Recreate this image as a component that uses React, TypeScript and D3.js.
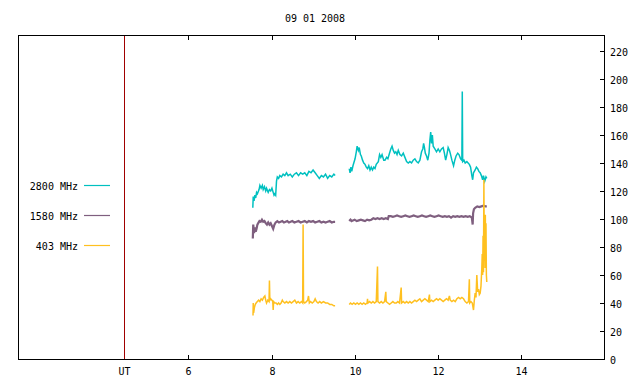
import React from 'react';
import * as d3 from 'd3';

// [hour UT, flux] pairs; NaN marks the data gap
const s2800: [number, number][] = [
  [7.55, 108], [7.56, 116], [7.58, 113], [7.6, 117], [7.62, 115], [7.64, 119], [7.66, 118], [7.7, 121],
  [7.72, 124], [7.75, 122], [7.78, 124], [7.8, 121], [7.83, 123], [7.86, 120], [7.88, 122], [7.92, 119],
  [7.95, 121], [7.98, 120], [8.01, 122], [8.04, 119], [8.06, 117], [8.08, 118], [8.1, 117], [8.12, 127],
  [8.14, 130], [8.17, 129], [8.2, 131], [8.24, 130], [8.28, 132], [8.32, 131], [8.36, 133], [8.4, 131],
  [8.45, 132], [8.5, 130], [8.55, 132], [8.6, 133], [8.65, 131], [8.7, 133], [8.75, 132], [8.8, 133],
  [8.85, 131], [8.9, 134], [8.95, 133], [9.0, 135], [9.05, 133], [9.1, 131], [9.15, 129], [9.2, 131],
  [9.25, 130], [9.3, 132], [9.35, 129], [9.4, 131], [9.45, 130], [9.5, 132], [9.53, 131],
  [9.7, NaN],
  [9.87, 136], [9.89, 133], [9.91, 137], [9.93, 134], [9.96, 138], [9.99, 141], [10.01, 143], [10.04, 148],
  [10.06, 152], [10.09, 149], [10.11, 151], [10.14, 146], [10.16, 145], [10.19, 142], [10.22, 140], [10.25, 139],
  [10.28, 137], [10.31, 136], [10.34, 138], [10.37, 135], [10.4, 137], [10.43, 135], [10.46, 137], [10.49, 136],
  [10.52, 139], [10.57, 141], [10.6, 146], [10.63, 144], [10.66, 146], [10.7, 142], [10.73, 142], [10.77, 144],
  [10.8, 143], [10.83, 146], [10.87, 150], [10.9, 152], [10.93, 149], [10.96, 147], [10.99, 148], [11.02, 146],
  [11.05, 149], [11.09, 146], [11.13, 145], [11.17, 147], [11.21, 144], [11.25, 141], [11.29, 140], [11.33, 141],
  [11.37, 140], [11.41, 142], [11.45, 143], [11.49, 141], [11.53, 140], [11.57, 142], [11.61, 148], [11.64, 150],
  [11.66, 154], [11.68, 151], [11.7, 147], [11.73, 145], [11.76, 142], [11.79, 147], [11.81, 156], [11.83, 162],
  [11.85, 154], [11.87, 160], [11.89, 152], [11.93, 150], [11.97, 148], [12.01, 150], [12.05, 148], [12.09, 150],
  [12.13, 151], [12.16, 147], [12.19, 142], [12.22, 146], [12.25, 151], [12.28, 149], [12.3, 147], [12.34, 142],
  [12.38, 138], [12.41, 142], [12.44, 145], [12.48, 147], [12.51, 146], [12.55, 143], [12.58, 142], [12.59, 191],
  [12.6, 141], [12.63, 142], [12.66, 140], [12.7, 141], [12.73, 140], [12.76, 139], [12.79, 137], [12.82, 131],
  [12.84, 128], [12.86, 133], [12.9, 135], [12.93, 137], [12.96, 136], [12.99, 134], [13.02, 133], [13.05, 131],
  [13.08, 128], [13.1, 131], [13.13, 127], [13.16, 130], [13.18, 129],
];

const s1580: [number, number][] = [
  [7.55, 86], [7.56, 96], [7.58, 90], [7.6, 94], [7.62, 91], [7.64, 93], [7.66, 96], [7.68, 97],
  [7.71, 98.5], [7.74, 98], [7.77, 99.5], [7.8, 98], [7.83, 98.5], [7.86, 97], [7.89, 96], [7.92, 97.5],
  [7.95, 96], [7.98, 97], [8.01, 95], [8.04, 93], [8.07, 96], [8.1, 97.5], [8.14, 98.5], [8.18, 97.5],
  [8.22, 98], [8.26, 98.5], [8.3, 97.5], [8.34, 98], [8.38, 98.5], [8.42, 97.5], [8.46, 98], [8.5, 98.5],
  [8.55, 97.5], [8.6, 98], [8.65, 98.5], [8.7, 97.5], [8.75, 98], [8.8, 98.5], [8.85, 97.5], [8.9, 98.5],
  [8.95, 98], [9.0, 98.5], [9.05, 97.5], [9.1, 98], [9.15, 98.5], [9.2, 97.5], [9.25, 98], [9.3, 97.5],
  [9.35, 98], [9.4, 98.5], [9.45, 97.5], [9.5, 98], [9.53, 98],
  [9.7, NaN],
  [9.87, 98.5], [9.9, 99.5], [9.93, 98.5], [9.96, 99], [10.0, 99.5], [10.05, 98.5], [10.1, 99], [10.15, 99.5],
  [10.2, 99], [10.25, 98.5], [10.3, 99.5], [10.35, 99], [10.4, 99.5], [10.45, 100.5], [10.5, 100], [10.55, 100.5],
  [10.6, 100], [10.65, 100.5], [10.7, 100], [10.75, 100.5], [10.8, 100], [10.82, 102], [10.87, 102], [10.92, 101.5],
  [10.97, 102], [11.02, 102.5], [11.07, 102], [11.12, 101.5], [11.17, 102], [11.22, 102.5], [11.27, 102], [11.32, 101.5],
  [11.37, 102], [11.42, 102.5], [11.47, 102], [11.52, 101.5], [11.57, 102], [11.62, 102.5], [11.67, 102], [11.72, 101.5],
  [11.77, 102], [11.82, 102.5], [11.87, 102], [11.92, 101.5], [11.97, 102], [12.02, 102.5], [12.07, 102], [12.12, 101.5],
  [12.17, 102], [12.22, 101.5], [12.27, 102], [12.32, 101], [12.37, 102], [12.42, 101.5], [12.47, 102], [12.52, 101.5],
  [12.57, 102], [12.62, 101.5], [12.67, 102], [12.72, 101.5], [12.77, 102], [12.82, 101], [12.84, 96], [12.85, 104],
  [12.87, 107], [12.9, 108], [12.95, 109], [13.0, 108.5], [13.05, 109], [13.1, 109.5], [13.15, 109], [13.18, 109],
];

const s403: [number, number][] = [
  [7.555, 31], [7.56, 40], [7.57, 33], [7.59, 37], [7.61, 39], [7.63, 40], [7.66, 41], [7.69, 42],
  [7.72, 41], [7.75, 43], [7.78, 42], [7.81, 44], [7.84, 45], [7.86, 42], [7.88, 40], [7.91, 42],
  [7.94, 41], [7.95, 56], [7.96, 42], [7.98, 43], [8.01, 42], [8.03, 41], [8.04, 35], [8.05, 41],
  [8.08, 40], [8.11, 40], [8.14, 39], [8.17, 40], [8.2, 39], [8.23, 40], [8.26, 42], [8.28, 41],
  [8.32, 40], [8.36, 41], [8.4, 40], [8.44, 41], [8.48, 40], [8.52, 41], [8.56, 42], [8.6, 40],
  [8.64, 41], [8.68, 40], [8.72, 41], [8.75, 40], [8.76, 96], [8.77, 41], [8.8, 40], [8.84, 41],
  [8.87, 42], [8.89, 45], [8.91, 40], [8.94, 41], [8.98, 40], [9.02, 41], [9.05, 43], [9.08, 41],
  [9.12, 40], [9.16, 41], [9.2, 40], [9.25, 41], [9.3, 40], [9.35, 40], [9.4, 39], [9.45, 39],
  [9.5, 38], [9.53, 38],
  [9.7, NaN],
  [9.87, 39], [9.9, 40], [9.94, 39], [9.98, 40], [10.02, 39], [10.06, 40], [10.1, 39], [10.14, 40],
  [10.18, 39], [10.22, 40], [10.26, 39], [10.3, 40], [10.31, 43], [10.32, 40], [10.36, 41], [10.4, 40],
  [10.44, 41], [10.48, 40], [10.52, 41], [10.55, 66], [10.56, 41], [10.6, 40], [10.64, 41], [10.68, 40],
  [10.72, 41], [10.75, 48], [10.76, 41], [10.8, 40], [10.84, 39], [10.88, 40], [10.92, 41], [10.96, 40],
  [11.0, 40], [11.04, 41], [11.08, 40], [11.12, 51], [11.13, 40], [11.17, 41], [11.21, 40], [11.25, 41],
  [11.29, 40], [11.33, 41], [11.37, 40], [11.41, 41], [11.45, 42], [11.49, 41], [11.53, 42], [11.57, 43],
  [11.61, 41], [11.65, 42], [11.69, 43], [11.73, 42], [11.77, 41], [11.8, 46], [11.81, 41], [11.85, 42],
  [11.89, 41], [11.93, 42], [11.97, 43], [12.01, 42], [12.05, 43], [12.09, 42], [12.13, 41], [12.17, 42],
  [12.21, 43], [12.25, 42], [12.28, 45], [12.3, 42], [12.34, 41], [12.38, 42], [12.42, 41], [12.46, 43],
  [12.5, 44], [12.54, 43], [12.58, 44], [12.62, 43], [12.66, 41], [12.7, 40], [12.74, 41], [12.76, 57],
  [12.77, 40], [12.8, 41], [12.83, 40], [12.86, 35], [12.88, 42], [12.9, 47], [12.92, 44], [12.94, 60],
  [12.96, 48], [12.98, 50], [13.0, 46], [13.02, 47], [13.04, 52], [13.06, 65], [13.07, 75], [13.08, 60],
  [13.09, 88], [13.1, 62], [13.11, 128], [13.12, 70], [13.13, 95], [13.14, 65], [13.145, 103], [13.15, 68],
  [13.16, 97], [13.17, 60], [13.18, 55],
];

const seriesNames = ['2800 MHz', '1580 MHz', '403 MHz'];
const seriesColors = ['#00c0c0', '#7f5f7f', '#ffc020'];
const seriesWidths = [1.5, 2.2, 1.5];
const seriesData = [s2800, s1580, s403];

const xTicks = [6, 8, 10, 12, 14];
const yTicks = [0, 20, 40, 60, 80, 100, 120, 140, 160, 180, 200, 220];
const utMarker = 4.45;
const title = '09 01 2008';

const W = 640, H = 384;
const left = 18, right = 604, top = 35, bottom = 359;
const font = '"DejaVu Sans Mono", monospace';

export default function App() {
  const x = d3.scaleLinear().domain([1.9, 16]).range([left, right]);
  const y = d3.scaleLinear().domain([0, 231.4]).range([bottom, top]);

  const line = d3.line<[number, number]>()
    .defined(d => !isNaN(d[1]))
    .x(d => x(d[0]))
    .y(d => y(d[1]));

  const ux = Math.round(x(utMarker)) + 0.5;

  return (
    <svg width={W} height={H} style={{ position: 'absolute', left: 0, top: 0, background: '#fff' }}
      fontFamily={font} fontSize={10}>
      <rect x={0} y={0} width={W} height={H} fill="#fff" />
      <text x={315} y={22} textAnchor="middle" fill="#000">{title}</text>

      {/* UT marker */}
      <line x1={ux} x2={ux} y1={top} y2={bottom} stroke="#a00000" />
      <text x={ux} y={375} textAnchor="middle">UT</text>

      {/* data */}
      {seriesData.map((d, i) => (
        <path key={i} d={line(d) || ''} fill="none" stroke={seriesColors[i]} strokeWidth={seriesWidths[i]} />
      ))}

      {/* frame */}
      <rect x={left + 0.5} y={top + 0.5} width={right - left} height={bottom - top}
        fill="none" stroke="#000" shapeRendering="crispEdges" />

      {/* x ticks top and bottom, inward */}
      {xTicks.map(t => {
        const px = Math.round(x(t)) + 0.5;
        return (
          <g key={t}>
            <line x1={px} x2={px} y1={top} y2={top + 5} stroke="#000" shapeRendering="crispEdges" />
            <line x1={px} x2={px} y1={bottom + 0.5} y2={bottom - 4} stroke="#000" shapeRendering="crispEdges" />
            <text x={px} y={375} textAnchor="middle">{t}</text>
          </g>
        );
      })}

      {/* right axis */}
      {yTicks.map(v => {
        const py = Math.round(y(v)) + 0.5;
        return (
          <g key={v}>
            <line x1={right - 4} x2={right + 0.5} y1={py} y2={py} stroke="#000" shapeRendering="crispEdges" />
            <text x={610} y={py + 4}>{v}</text>
          </g>
        );
      })}

      {/* legend */}
      {seriesNames.map((n, i) => {
        const ly = 185.5 + i * 30;
        return (
          <g key={n}>
            <text x={78} y={ly + 4} textAnchor="end">{n}</text>
            <line x1={84} x2={110} y1={ly} y2={ly} stroke={seriesColors[i]} strokeWidth={1.2} />
          </g>
        );
      })}
    </svg>
  );
}
